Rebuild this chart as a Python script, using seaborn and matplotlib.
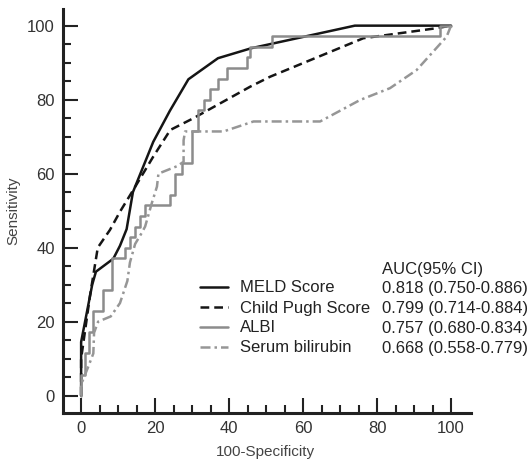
import numpy as np
import pandas as pd
import matplotlib
matplotlib.use("Agg")
import matplotlib.pyplot as plt
import seaborn as sns

# ---------------- data ----------------
meld_x = [0, 0, 3, 4, 8.7, 10.5, 12.3, 14, 19.5, 24, 29, 37, 46, 74, 100]
meld_y = [0, 14.5, 30, 33.5, 37, 40.5, 45, 55, 68.6, 77, 85.5, 91.2, 93.9, 100, 100]

cp_x = [0, 0, 2.4, 4.5, 7.8, 10.5, 14.1, 19.5, 24.1, 30.4, 37.6, 45.7, 51.1, 62, 76.3, 96, 100]
cp_y = [0, 10, 27, 40, 44.8, 49.7, 55.6, 64.6, 71.8, 75, 79, 83.5, 86.2, 90.7, 96.6, 99.3, 100]

albi_x = [0, 0, 1, 2, 3.3, 6, 8.3, 11.9, 13.2, 14.5, 16, 17.3, 24.1, 25.4, 27.2,
          29.9, 31.7, 33.1, 34.9, 37.1, 39.4, 44.8, 45.7, 51.5, 97, 100]
albi_y = [0, 5.7, 11.4, 17.1, 22.9, 28.6, 37.1, 40, 42.9, 45.7, 48.6, 51.4, 54.3, 60, 62.9,
          71.4, 77.1, 80, 82.9, 85.7, 88.6, 91.4, 94.3, 97.1, 100, 100]

sb_x = [0, 0, 2, 3.3, 3.5, 4.6, 8, 10.5, 12.5, 13.2, 14.6, 16.4, 17.3, 19.1, 20.5, 20.9,
        25.9, 27.7, 27.7, 28.1, 38.5, 46.6, 64.6, 75.4, 83.5, 90.7, 98.8, 100]
sb_y = [0, 3, 8, 11.4, 17, 20, 21.4, 25, 31, 36, 41, 44, 45.7, 52, 56.5, 60,
        62, 63.2, 69, 71.4, 71.4, 74.1, 74.1, 79.9, 83.1, 88, 97, 100]

labels = ["MELD Score", "Child Pugh Score", "ALBI", "Serum bilirubin"]
auc_header = "AUC(95% CI)"
auc_text = ["0.818 (0.750-0.886)", "0.799 (0.714-0.884)",
            "0.757 (0.680-0.834)", "0.668 (0.558-0.779)"]
ticks = [0, 20, 40, 60, 80, 100]

# ---------------- styling ----------------
sns.set_style("ticks")
plt.rcParams['font.family'] = ['Liberation Sans', 'DejaVu Sans']
txt_col = "#333333"
fs = 12

fig = plt.figure(figsize=(5.3, 4.63), dpi=100)
ax = fig.add_axes([63/530, 50/463, 408/530, 404/463])

black = "#151515"
gray = "#8c8c8c"
lw = 1.8

sns.lineplot(x=meld_x, y=meld_y, sort=False, estimator=None, ax=ax,
             color=black, lw=lw)
sns.lineplot(x=cp_x, y=cp_y, sort=False, estimator=None, ax=ax,
             color=black, lw=lw, linestyle=(0, (3.5, 2)))
sns.lineplot(x=albi_x, y=albi_y, sort=False, estimator=None, ax=ax,
             color=gray, lw=lw, drawstyle="steps-post")
sns.lineplot(x=sb_x, y=sb_y, sort=False, estimator=None, ax=ax,
             color="#969696", lw=lw, linestyle=(0, (4, 1.6, 1, 1.6)))

lines = ax.get_lines()[:4]

ax.set_xlim(-4.9, 105.4)
ax.set_ylim(-4.7, 104.5)
ax.set_xticks(ticks)
ax.set_yticks(ticks)
ax.set_xticks(np.arange(0, 101, 5), minor=True)
ax.set_yticks(np.arange(0, 101, 5), minor=True)

for s in ["top", "right"]:
    ax.spines[s].set_visible(False)
for s in ["left", "bottom"]:
    ax.spines[s].set_linewidth(2.2)
    ax.spines[s].set_color("#222222")

ax.tick_params(which="major", direction="in", length=11, width=1.5, color="#222222",
               labelsize=fs, labelcolor=txt_col, pad=6)
ax.tick_params(which="minor", direction="in", length=5.5, width=1.5, color="#222222")

ax.set_xlabel("100-Specificity", fontsize=11, color="#444444")
ax.set_ylabel("Sensitivity", fontsize=11, color="#444444")
ax.xaxis.set_label_coords(0.495, -0.08)
ax.yaxis.set_label_coords(-0.105, 0.5)

leg = ax.legend(lines, labels, loc="upper left",
                bbox_to_anchor=(200/530, 1 - 280.5/463), bbox_transform=fig.transFigure,
                frameon=False, borderpad=0, borderaxespad=0, handlelength=1.7,
                handletextpad=0.72, labelspacing=0.3, fontsize=fs)
for t in leg.get_texts():
    t.set_color("#222222")

fig.text(381.7/530, 1 - 269.3/463, auc_header, fontsize=fs, color="#222222", va="center")
rows_y = [288.5, 308.5, 329, 348.5]
for yy, s in zip(rows_y, auc_text):
    fig.text(381.7/530, 1 - yy/463, s, fontsize=fs, color="#222222", va="center")

fig.savefig("out.png", dpi=100)
